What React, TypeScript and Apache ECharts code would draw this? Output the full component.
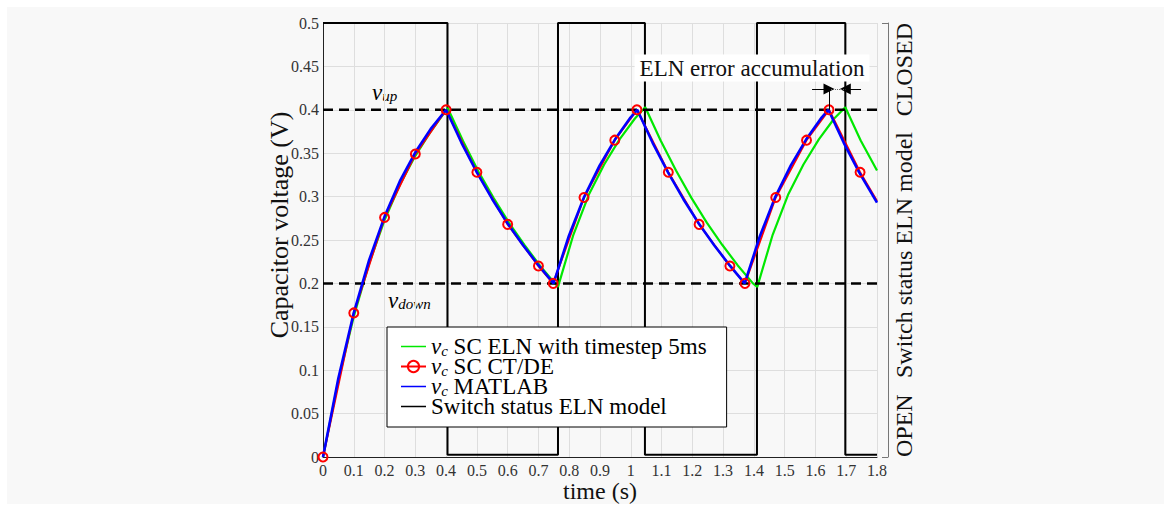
import React, { useEffect, useRef } from "react";
import * as echarts from "echarts";

// ---------- data ----------
const vUp = 0.4;
const vDown = 0.2;
const tMax = 1.8;

// MATLAB reference solution
const matlabT = [
  0, 0.05, 0.1, 0.15, 0.2, 0.25, 0.3, 0.35, 0.4,
  0.45, 0.5, 0.55, 0.6, 0.65, 0.7, 0.749,
  0.799, 0.849, 0.899, 0.949, 0.999, 1.021,
  1.071, 1.121, 1.171, 1.221, 1.271, 1.321, 1.37,
  1.42, 1.47, 1.52, 1.57, 1.62, 1.642,
  1.692, 1.742, 1.8,
];
const matlabV = [
  0, 0.091, 0.166, 0.227, 0.277, 0.318, 0.351, 0.378, 0.4,
  0.362, 0.328, 0.297, 0.269, 0.244, 0.221, 0.2,
  0.255, 0.3, 0.336, 0.366, 0.391, 0.4,
  0.362, 0.328, 0.297, 0.269, 0.244, 0.221, 0.2,
  0.255, 0.3, 0.336, 0.366, 0.391, 0.4,
  0.362, 0.328, 0.293,
];

// SC CT/DE samples (last point has no marker)
const ctdeT = [
  0, 0.1, 0.2, 0.3, 0.4, 0.5, 0.6, 0.7, 0.748, 0.848, 0.948, 1.02,
  1.122, 1.222, 1.322, 1.371, 1.471, 1.571, 1.644, 1.745, 1.8,
];
const ctdeV = [
  0, 0.166, 0.276, 0.349, 0.4, 0.328, 0.268, 0.22, 0.2, 0.299, 0.365, 0.4,
  0.328, 0.268, 0.22, 0.2, 0.299, 0.365, 0.4, 0.328, 0.295,
];
const ctdeMarked = [
  true, true, true, true, true, true, true, true, true, true, true, true,
  true, true, true, true, true, true, true, true, false,
];

// SC ELN with timestep 5ms
const elnT = [
  0, 0.05, 0.1, 0.15, 0.2, 0.25, 0.3, 0.35, 0.405,
  0.455, 0.505, 0.555, 0.605, 0.655, 0.705, 0.7635,
  0.8135, 0.8635, 0.9135, 0.9635, 1.0135, 1.047,
  1.097, 1.147, 1.197, 1.247, 1.297, 1.347, 1.397, 1.411,
  1.461, 1.511, 1.561, 1.611, 1.661, 1.697,
  1.747, 1.8,
];
const elnV = [
  0, 0.088, 0.162, 0.223, 0.273, 0.314, 0.347, 0.375, 0.402,
  0.364, 0.329, 0.298, 0.2695, 0.244, 0.2205, 0.196,
  0.256, 0.302, 0.337, 0.366, 0.39, 0.403,
  0.3646, 0.33, 0.2985, 0.27, 0.2445, 0.221, 0.2, 0.196,
  0.256, 0.302, 0.337, 0.366, 0.39, 0.403,
  0.3646, 0.33,
];

// Switch status of the ELN model (1 = CLOSED, 0 = OPEN), step at each time
const switchT = [0, 0.4045, 0.7635, 1.046, 1.41, 1.697, 1.8];
const switchS = [1, 0, 1, 0, 1, 0, 0];
const switchLabels = ["OPEN", "CLOSED"];

// error accumulation annotation
const errRefPeakT = 1.644;
const errElnPeakT = 1.697;
const errArrowV = 0.424;
const errArrowLeftT = 1.589;
const errArrowRightT = 1.748;

const FONT = "Liberation Serif";
const LINE_ICON = "path://M0,0h0.01v0.01h-0.01z M0,6.2h25v1.6h-25z M0,14h0.01v0.01h-0.01z";

export default function App() {
  const ref = useRef<HTMLDivElement>(null);

  useEffect(() => {
    const chart = echarts.init(ref.current!, null, { renderer: "svg" });
    const zip = (a: number[], b: number[]) => a.map((t, i) => [t, b[i]]);

    const legendRich = {
      v: { fontFamily: FONT, fontStyle: "italic", fontSize: 23, color: "#000" },
      s: { fontFamily: FONT, fontStyle: "italic", fontSize: 15, lineHeight: 9, verticalAlign: "bottom", color: "#000" },
      t: { fontFamily: FONT, fontSize: 23, color: "#000" },
    };
    const labelRich = {
      v: { fontFamily: FONT, fontStyle: "italic", fontSize: 23, lineHeight: 22, color: "#000" },
      s: { fontFamily: FONT, fontStyle: "italic", fontSize: 15, lineHeight: 12, verticalAlign: "bottom", color: "#000" },
    };

    const option: any = {
      animation: false,
      backgroundColor: "#f8f8f8",
      textStyle: { fontFamily: FONT },
      grid: { left: 316, right: 287, top: 16, bottom: 47, outerBoundsMode: "none", containLabel: false },
      legend: {
        show: true,
        orient: "vertical",
        left: 380,
        top: 320,
        itemGap: -3,
        itemWidth: 25,
        itemHeight: 14,
        padding: [8, 20, 9, 13],
        backgroundColor: "#ffffff",
        borderColor: "#000",
        borderWidth: 1,
        borderRadius: 0,
        data: [
          { name: "SC ELN with timestep 5ms", icon: LINE_ICON },
          { name: "SC CT/DE" },
          { name: "MATLAB", icon: LINE_ICON },
          { name: "Switch status ELN model", icon: LINE_ICON },
        ],
        formatter: (name: string) =>
          name === "Switch status ELN model" ? `{t|${name}}` : `{v|v}{s|c}{t| ${name}}`,
        textStyle: {
          fontFamily: FONT,
          fontSize: 23,
          color: "#000",
          rich: legendRich,
        },
      },
      xAxis: {
        type: "value",
        min: 0,
        max: tMax,
        interval: 0.1,
        name: "time (s)",
        nameLocation: "middle",
        nameGap: 22,
        nameMoveOverlap: false,
        nameTextStyle: { fontFamily: FONT, fontSize: 24, color: "#111" },
        axisLine: { show: true, onZero: false, lineStyle: { color: "#222", width: 1 } },
        axisTick: { show: false },
        axisLabel: { fontFamily: FONT, fontSize: 16, color: "#333", margin: 5 },
        splitLine: { show: true, lineStyle: { color: "#dedede", width: 1 } },
      },
      yAxis: [
        {
          type: "value",
          min: 0,
          max: 0.5,
          interval: 0.05,
          name: "Capacitor voltage (V)",
          nameLocation: "middle",
          nameGap: 31,
          nameMoveOverlap: false,
          nameTextStyle: { fontFamily: FONT, fontSize: 26, color: "#111", padding: [0, 0, 0, 30] },
          axisLine: { show: true, lineStyle: { color: "#222", width: 1 } },
          axisTick: { show: false },
          axisLabel: { fontFamily: FONT, fontSize: 16, color: "#333", margin: 4 },
          splitLine: { show: true, lineStyle: { color: "#dedede", width: 1 } },
        },
        {
          type: "value",
          show: false,
          min: -0.005,
          max: 1,
          splitLine: { show: false },
        },
        {
          type: "value",
          position: "right",
          offset: 11,
          min: 0,
          max: 1,
          interval: 1,
          axisLine: { show: true, lineStyle: { color: "#777", width: 1 } },
          axisTick: { show: true, inside: true, length: 6, lineStyle: { color: "#777" } },
          axisLabel: { show: false },
          splitLine: { show: false },
        },
      ],
      series: [
        {
          name: "Switch status ELN model",
          type: "line",
          yAxisIndex: 1,
          step: "end",
          symbol: "none",
          itemStyle: { color: "#000" },
          lineStyle: { color: "#000", width: 2 },
          data: zip(switchT, switchS),
        },
        {
          name: "SC ELN with timestep 5ms",
          type: "line",
          symbol: "none",
          itemStyle: { color: "#00e800" },
          lineStyle: { color: "#00e800", width: 2.2 },
          data: zip(elnT, elnV),
        },
        {
          name: "SC CT/DE",
          type: "line",
          symbol: "circle",
          symbolSize: 9,
          showAllSymbol: true,
          itemStyle: { color: "rgba(0,0,0,0)", borderColor: "#ff0000", borderWidth: 2 },
          lineStyle: { color: "#ff0000", width: 2 },
          data: ctdeT.map((t, i) =>
            ctdeMarked[i] ? { value: [t, ctdeV[i]] } : { value: [t, ctdeV[i]], symbol: "none" }
          ),
        },
        {
          name: "vup",
          type: "line",
          symbol: "none",
          silent: true,
          lineStyle: { color: "#000", width: 2.5, type: [10, 6] },
          data: [[0, vUp], [tMax, vUp]],
        },
        {
          name: "vdown",
          type: "line",
          symbol: "none",
          silent: true,
          lineStyle: { color: "#000", width: 2.5, type: [10, 6] },
          data: [[0, vDown], [tMax, vDown]],
        },
        {
          name: "MATLAB",
          type: "line",
          symbol: "none",
          itemStyle: { color: "#0000ff" },
          lineStyle: { color: "#0000ff", width: 2.6 },
          data: zip(matlabT, matlabV),
        },
        {
          name: "annotation",
          type: "line",
          data: [],
          silent: true,
          markLine: {
            silent: true,
            animation: false,
            symbol: ["none", "triangle"],
            symbolSize: 11,
            label: { show: false },
            lineStyle: { color: "#000", width: 1, type: "solid" },
            data: [
              [{ coord: [errArrowLeftT, errArrowV] }, { coord: [errRefPeakT, errArrowV] }],
              [{ coord: [errArrowRightT, errArrowV] }, { coord: [errElnPeakT, errArrowV] }],
              [
                { coord: [errRefPeakT, errArrowV], symbol: "none" },
                { coord: [errElnPeakT, errArrowV], symbol: "none", lineStyle: { type: "dotted", color: "#666" } },
              ],
              [
                { coord: [errRefPeakT, errArrowV], symbol: "none" },
                { coord: [errRefPeakT, vUp], symbol: "none" },
              ],
            ],
          },
        },
      ],
      graphic: [
        {
          type: "text",
          x: 365,
          y: 85,
          style: { text: "{v|v}{s|up}", rich: labelRich, align: "left", verticalAlign: "middle" },
        },
        {
          type: "text",
          x: 381,
          y: 293,
          style: { text: "{v|v}{s|down}", rich: labelRich, align: "left", verticalAlign: "middle" },
        },
        {
          type: "text",
          x: 745,
          y: 61,
          z: 100,
          style: {
            text: "ELN error accumulation",
            font: "23px Liberation Serif",
            fill: "#111",
            align: "center",
            verticalAlign: "middle",
            backgroundColor: "#ffffff",
            padding: [2, 5, 2, 5],
          },
        },
        {
          type: "text",
          x: 897,
          y: 450,
          rotation: Math.PI / 2,
          style: { text: switchLabels[0], font: "24px Liberation Serif", fill: "#111", align: "left", verticalAlign: "middle" },
        },
        {
          type: "text",
          x: 897,
          y: 248,
          rotation: Math.PI / 2,
          style: { text: "Switch status ELN model", font: "24px Liberation Serif", fill: "#111", align: "center", verticalAlign: "middle" },
        },
        {
          type: "text",
          x: 897,
          y: 16,
          rotation: Math.PI / 2,
          style: { text: switchLabels[1], font: "24px Liberation Serif", fill: "#111", align: "right", verticalAlign: "middle" },
        },
      ],
    };

    chart.setOption(option);
    return () => chart.dispose();
  }, []);

  return (
    <div
      ref={ref}
      style={{ position: "absolute", left: 7, top: 7, width: 1157, height: 497 }}
    />
  );
}
